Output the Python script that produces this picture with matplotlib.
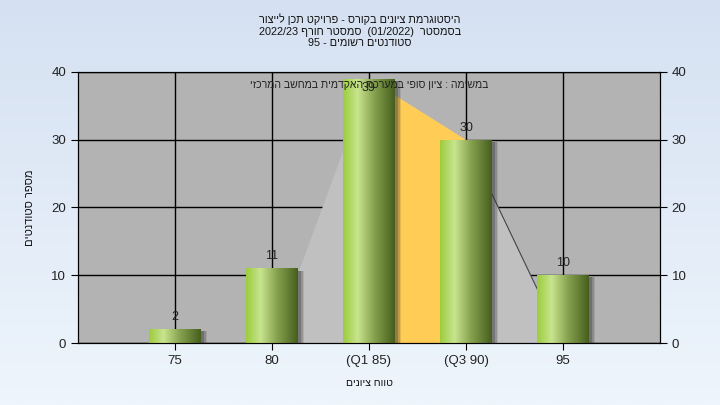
import re
import numpy as np
import matplotlib
matplotlib.use("Agg")
import matplotlib.pyplot as plt
from matplotlib.colors import LinearSegmentedColormap
from matplotlib.patches import Rectangle

plt.rcParams['font.family'] = ['Liberation Sans', 'DejaVu Sans']

# data
categories = ["75", "80", "(Q1 85)", "(Q3 90)", "95"]
counts = [2, 11, 39, 30, 10]
curve = [0, 0, 39, 30, 0]          # background distribution outline
iqr = (2, 3)                       # Q1..Q3 segment highlighted

title_lines = ["היסטוגרמת ציונים בקורס - פרויקט תכן לייצור",
               "בסמסטר  (01/2022)  סמסטר חורף 2022/23",
               "סטודנטים רשומים - 95"]
note = "במשימה : ציון סופי במערכת האקדמית במחשב המרכזי"
xlabel = "טווח ציונים"
ylabel = "מספר סטודנטים"


def rtl(s):
    # crude visual ordering for Hebrew (matplotlib has no bidi)
    r = s[::-1]
    r = re.sub(r'[0-9A-Za-z/]+', lambda m: m.group(0)[::-1], r)
    return r.translate(str.maketrans("()", ")("))


fig = plt.figure(figsize=(7.2, 4.05), dpi=100)

# figure background gradient
bg = fig.add_axes([0, 0, 1, 1], zorder=-10)
bg_cmap = LinearSegmentedColormap.from_list("bg", ["#d5e1f2", "#eef5fc"])
bg.imshow(np.linspace(0, 1, 256).reshape(-1, 1), aspect="auto", cmap=bg_cmap,
          extent=[0, 1, 0, 1])
bg.axis("off")

ax = fig.add_axes([78 / 720, 62 / 405, 582 / 720, 271 / 405])
ax.set_facecolor("#b3b3b3")
x = np.arange(len(categories))

# background polygon
xc = np.arange(len(curve))
ax.fill_between(xc, curve, color="#c0c0c0", zorder=1, linewidth=0)
m = (xc >= iqr[0]) & (xc <= iqr[1])
ax.fill_between(xc[m], np.array(curve)[m], color="#ffcc55", zorder=1.1, linewidth=0)
ax.plot(xc[3:5], curve[3:5], color="#444444", lw=0.8, zorder=1.2)
ax.plot(xc[0:2], curve[0:2], color="#777777", lw=0.8, zorder=1.2)

# bars with cylinder-like gradient
w = 0.53
bars = ax.bar(x, counts, width=w, color="none", zorder=3)
grad_cmap = LinearSegmentedColormap.from_list(
    "g", [(0, "#9ccc3c"), (0.28, "#c8e48f"), (0.6, "#86a24e"), (1, "#465e1e")])
grad = np.linspace(0, 1, 256).reshape(1, -1)
for b, c in zip(bars, counts):
    bx, by, bw, bh = b.get_x(), b.get_y(), b.get_width(), b.get_height()
    for off, a in [(0.07, 0.12), (0.05, 0.22), (0.03, 0.3)]:
        ax.add_patch(Rectangle((bx + off, by), bw, bh - 0.3, color="#333333",
                               alpha=a, lw=0, zorder=2))
    im = ax.imshow(grad, aspect="auto", cmap=grad_cmap,
                   extent=[bx, bx + bw, by, by + bh], zorder=3)
    im.set_clip_path(b)
    ax.text(bx + bw / 2, min(bh + 1.8, 37.6), str(c),
            ha="center", va="center", fontsize=9, color="#222222", zorder=5)
ax.set_xlim(-1, len(categories))
ax.set_ylim(0, 40)

# axes styling
ax.set_xticks(x)
ax.set_xticklabels(categories, fontsize=9)
ax.set_yticks(range(0, 41, 10))
ax.tick_params(labelsize=9.5, length=5, color="black", labelcolor="#222222")
ax.grid(True, color="black", lw=1)
ax.set_axisbelow(True)
for s in ax.spines.values():
    s.set_color("black")

ax2 = ax.twinx()
ax2.set_ylim(0, 40)
ax2.set_yticks(range(0, 41, 10))
ax2.tick_params(labelsize=9.5, length=5, color="black", labelcolor="#222222")
for s in ax2.spines.values():
    s.set_color("black")

ax.set_xlabel(rtl(xlabel), fontsize=7.5, labelpad=8, color="#111111")
ax.set_ylabel(rtl(ylabel), fontsize=8, color="#111111")
ax.yaxis.set_label_coords(-0.074, 0.5)

ax.text(0.5, 0.952, rtl(note), transform=ax.transAxes, ha="center", va="center",
        fontsize=7.6, color="#222222", zorder=6)

fig.text(0.5, 1 - 31 / 405, "\n".join(rtl(t) for t in title_lines),
         ha="center", va="center", fontsize=7.8, linespacing=1.2, color="#111111")

fig.savefig("out.png", dpi=100)
